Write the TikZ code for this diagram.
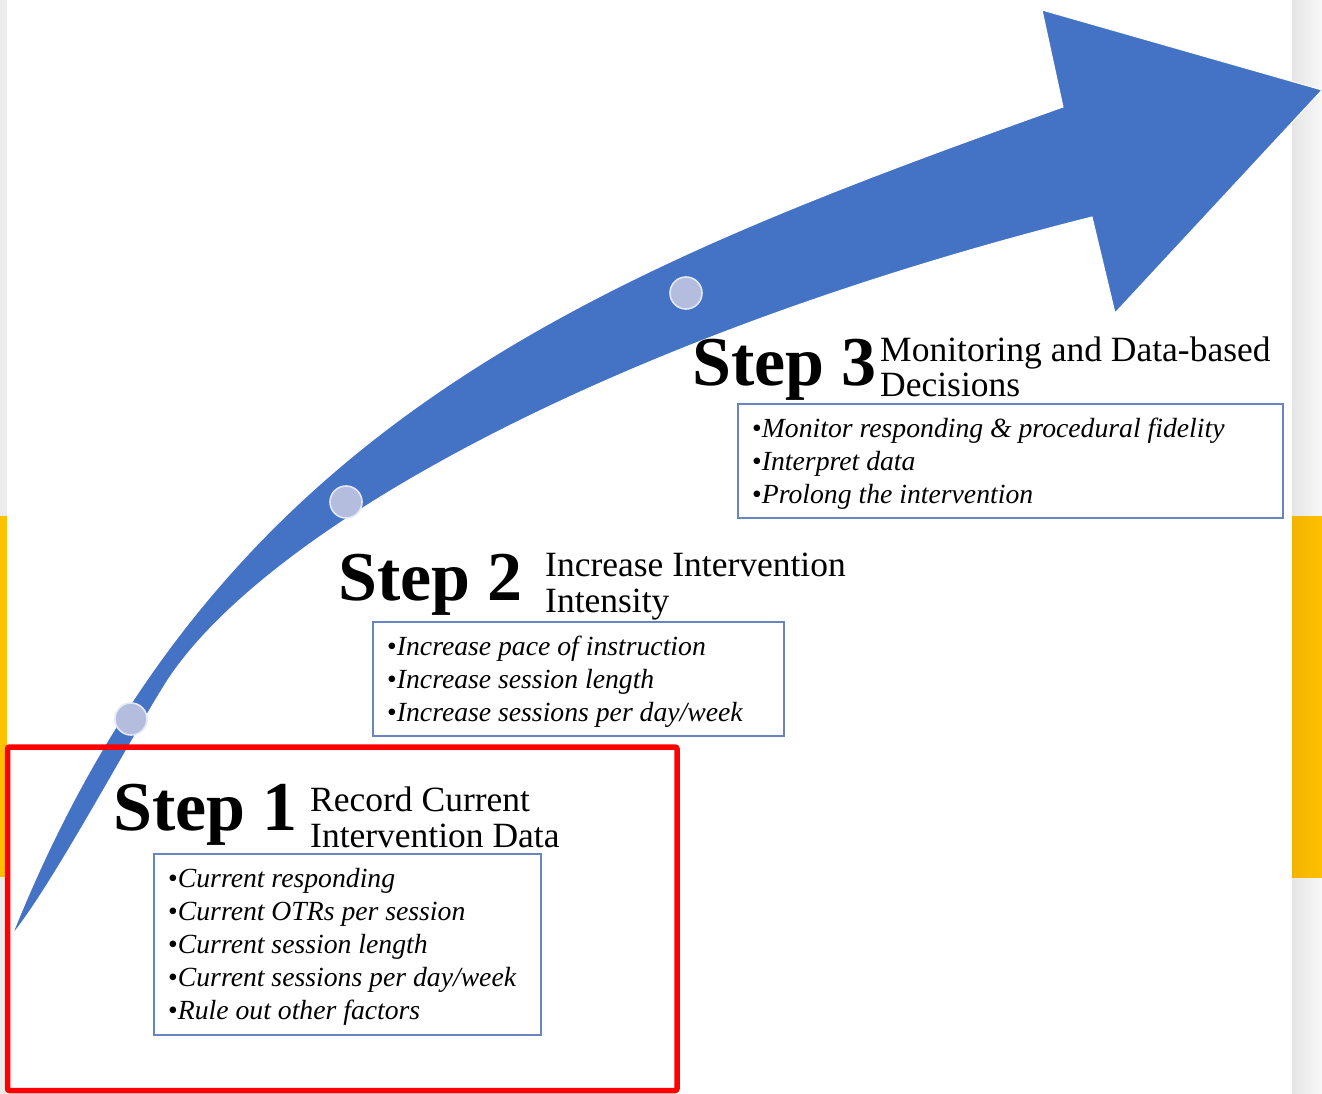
\documentclass[tikz,border=0pt]{standalone}
\usepackage{fontspec}
\setmainfont{Liberation Serif}
\definecolor{arrowblue}{RGB}{68,114,196}
\definecolor{boxline}{RGB}{104,132,194}
\definecolor{dotfill}{RGB}{180,189,222}
\definecolor{dotline}{RGB}{225,232,246}
\definecolor{framered}{RGB}{255,0,0}
\definecolor{baryellow}{RGB}{255,192,0}
\definecolor{baryellowdark}{RGB}{242,180,0}
\definecolor{sidegray}{RGB}{236,236,236}
\begin{document}
\begin{tikzpicture}[x=1pt,y=-1pt,
  stepname/.style={anchor=base west,inner sep=0pt,font=\bfseries\fontsize{70}{70}\selectfont},
  steptitle/.style={anchor=base west,inner sep=0pt,font=\fontsize{35.5}{36}\selectfont},
  itemline/.style={anchor=base west,inner sep=0pt,font=\fontsize{27.7}{33}\selectfont},
  itembox/.style={draw=boxline,line width=1.8pt,fill=white,inner sep=0pt},
  dot/.style={circle,fill=dotfill,draw=dotline,line width=1.6pt,minimum size=32pt,inner sep=0pt},
]
\useasboundingbox (0,0) rectangle (1322,1094);

% page and side margins
\fill[white] (0,0) rectangle (1322,1094);
\fill[sidegray] (0,0) rectangle (7,1094);
\shade[left color=sidegray!90!black!60!white, right color=white!97!black] (1292,0) rectangle (1322,1094);
\fill[baryellow] (0,516) rectangle (7,877);
\shade[left color=baryellowdark, right color=baryellow] (1292,516) rectangle (1322,877);

% curved arrow: outer edge, head, inner edge back to the pointed tail
\path[fill=arrowblue,draw=white,line width=1pt,line join=miter]
  (12,935) .. controls (216,425) and (592,275) .. (1063,107)
  -- (1042,10) -- (1322,90) -- (1115,313) -- (1092,217)
  .. controls (607,339) and (267,530) .. (168,680)
  .. controls (138,726) and (51,889) .. (12,935)
  -- cycle;

% milestone dots on the arrow
\node[dot] (d1) at (131,719) {};
\node[dot] (d2) at (346,502) {};
\node[dot] (d3) at (686,293) {};

% step 1
\node[stepname] (s1) at (113,830) {Step 1};
\node[steptitle] (t1a) at (310,811) {Record Current};
\node[steptitle] (t1b) at (310,847) {Intervention Data};
\node[itembox,minimum width=387pt,minimum height=181pt] (b1) at (347.5,944.5) {};
\node[itemline] (i1a) at (168,887) {•\textit{Current responding}};
\node[itemline] (i1b) at (168,920) {•\textit{Current OTRs per session}};
\node[itemline] (i1c) at (168,953) {•\textit{Current session length}};
\node[itemline] (i1d) at (168,986) {•\textit{Current sessions per day/week}};
\node[itemline] (i1e) at (168,1019) {•\textit{Rule out other factors}};

% step 2
\node[stepname] (s2) at (338,600) {Step 2};
\node[steptitle] (t2a) at (545,576) {Increase Intervention};
\node[steptitle] (t2b) at (545,612) {Intensity};
\node[itembox,minimum width=411pt,minimum height=114pt] (b2) at (578.5,679) {};
\node[itemline] (i2a) at (387,655) {•\textit{Increase pace of instruction}};
\node[itemline] (i2b) at (387,688) {•\textit{Increase session length}};
\node[itemline] (i2c) at (387,721) {•\textit{Increase sessions per day/week}};

% step 3
\node[stepname] (s3) at (692,385) {Step 3};
\node[steptitle] (t3a) at (880,361) {Monitoring and Data-based};
\node[steptitle] (t3b) at (880,396) {Decisions};
\node[itembox,minimum width=545pt,minimum height=114pt] (b3) at (1010.5,461) {};
\node[itemline] (i3a) at (752,437) {•\textit{Monitor responding \& procedural fidelity}};
\node[itemline] (i3b) at (752,470) {•\textit{Interpret data}};
\node[itemline] (i3c) at (752,503) {•\textit{Prolong the intervention}};

% highlight frame round step 1
\draw[framered,line width=5.5pt,rounded corners=2pt] (7.5,747) rectangle (677,1090.5);
\end{tikzpicture}
\end{document}
